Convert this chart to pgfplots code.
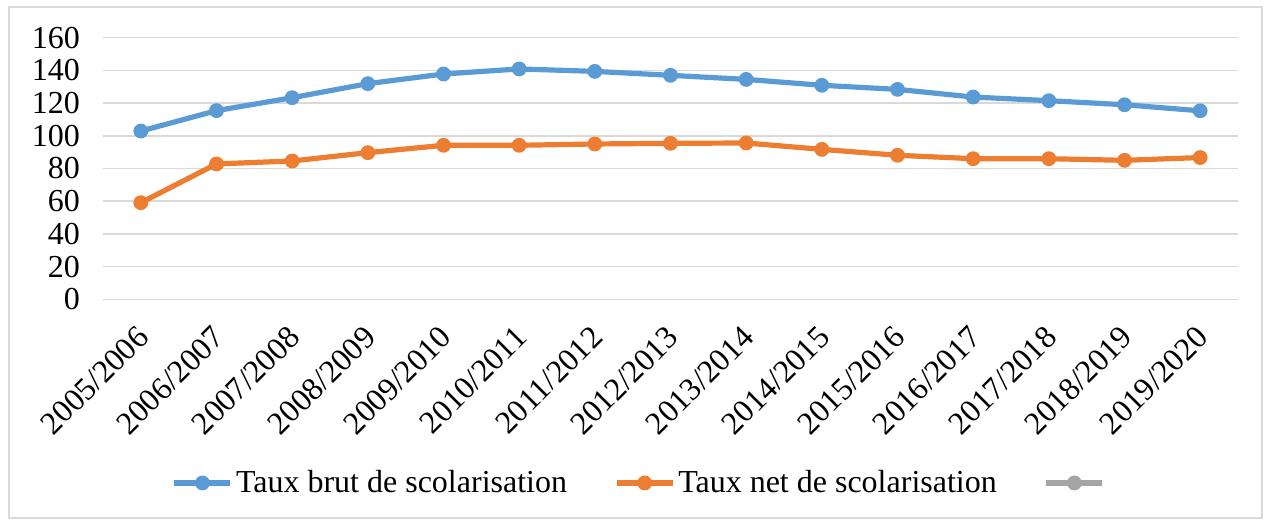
\documentclass[border=0pt]{standalone}
\usepackage{fontspec}
\setmainfont{Liberation Serif}
\usepackage{pgfplots}
\pgfplotsset{compat=1.18}
\definecolor{cblue}{HTML}{5B9BD5}
\definecolor{corange}{HTML}{ED7D31}
\definecolor{cgray}{HTML}{A5A5A5}
\definecolor{cgrid}{HTML}{D9D9D9}

\pgfplotstableread{
x brut net
0 102.9 59.1
1 115.4 82.8
2 123.3 84.6
3 131.9 89.7
4 137.8 94.2
5 140.9 94.2
6 139.4 95.0
7 137.0 95.4
8 134.5 95.6
9 130.9 91.7
10 128.4 88.1
11 123.7 86.0
12 121.5 86.0
13 119.0 85.0
14 115.3 86.7
}\taux

\begin{document}
\begin{tikzpicture}
\begin{axis}[
  scale only axis, width=567.5pt, height=130.8pt,
  xmin=-0.5, xmax=14.5, ymin=0, ymax=160,
  ytick={0,20,...,160},
  xtick={0,...,14},
  xticklabels={2005/2006,2006/2007,2007/2008,2008/2009,2009/2010,2010/2011,2011/2012,2012/2013,2013/2014,2014/2015,2015/2016,2016/2017,2017/2018,2018/2019,2019/2020},
  axis line style={draw=none},
  major tick style={draw=none},
  ymajorgrids, grid style={cgrid, line width=0.75pt},
  /pgf/number format/assume math mode=true,
  tick label style={font=\fontsize{16}{19}\selectfont},
  yticklabel style={anchor=east, xshift=-8pt},
  xticklabel style={rotate=45, anchor=north east, inner sep=0pt, xshift=-10.6pt, yshift=-6.7pt},
  legend columns=3,
  legend style={draw=none, fill=none, at={(0.4744,-0.702)}, anchor=center,
    font=\fontsize{16}{19}\selectfont,
    nodes={inner sep=1.5pt},
    /tikz/every even column/.append style={column sep=22pt}},
  legend image code/.code={\draw[#1, mark repeat=2, mark phase=2] plot coordinates {(0pt,0pt) (14pt,0pt) (28pt,0pt)};},
]
\addplot[cblue, line width=2.6pt, mark=*, mark size=3.2pt, mark options={line width=1pt}] table[x=x, y=brut] {\taux};
\addlegendentry{Taux brut de scolarisation}
\addplot[corange, line width=2.6pt, mark=*, mark size=3.2pt, mark options={line width=1pt}] table[x=x, y=net] {\taux};
\addlegendentry{Taux net de scolarisation}
\addlegendimage{cgray, line width=2.6pt, mark=*, mark size=3.2pt, mark options={line width=1pt}}
\addlegendentry{}
\end{axis}
\draw[cgrid, line width=0.75pt] (-47pt,-109.35pt) rectangle (579.5pt,146.15pt);
\pgfresetboundingbox
\path[use as bounding box] (-51.5pt,-110.85pt) rectangle (581pt,149.65pt);
\end{tikzpicture}
\end{document}
